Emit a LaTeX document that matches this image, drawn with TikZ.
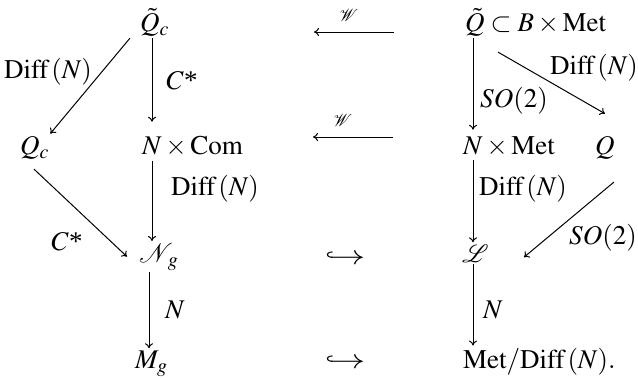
\documentclass[tikz,border=0pt]{standalone}
\usepackage{mathptmx}
\usepackage{mathrsfs}
\usepackage{fontspec}
\setmainfont{Liberation Serif}
\usetikzlibrary{arrows.meta}
\newcommand{\Cstar}{$C$\kern0.5pt*}
\begin{document}
\begin{tikzpicture}[x=1pt,y=-1pt,
  obj/.style={anchor=base west,inner sep=2pt,font=\fontsize{27}{32}\selectfont},
  lab/.style={inner sep=0pt,font=\fontsize{27}{32}\selectfont},
  wlab/.style={inner sep=0pt,font=\fontsize{17}{20}\selectfont},
  map/.style={-{To[length=5pt,width=8pt]},line width=1pt}]
\useasboundingbox (0,0) rectangle (638,380);
% objects
\node[obj] (qtc) at (138,31) {$\tilde{Q}_c$};
\node[obj] (qt)  at (463,31) {$\tilde{Q}\subset B\times\mathrm{Met}$};
\node[obj] (qc)  at (18,154) {$Q_c$};
\node[obj] (nc)  at (140,154) {$N\times\mathrm{Com}$};
\node[obj] (nm)  at (461,154) {$N\times\mathrm{Met}$};
\node[obj] (q)   at (593,154) {$Q$};
\node[obj] (ng)  at (137,262) {$\mathcal{N}_{\;g}$};
\node[obj] (ell) at (460,262) {$\mathscr{L}$};
\node[obj] (mg)  at (133,368) {$M_g$};
\node[obj] (md)  at (461,368) {$\mathrm{Met}/\mathrm{Diff}\,(N).$};
% column coordinates
\coordinate (cL) at (152,0);
\coordinate (cN) at (149,0);
\coordinate (cR) at (473,0);
% vertical maps
\draw[map,shorten >=12pt] (qtc.south -| cL) -- (nc.north -| cL);
\draw[map,shorten <=3pt] (nc.south -| cL) -- (ng.north -| cL);
\draw[map] (ng.south -| cN) -- (mg.north -| cN);
\draw[map,shorten >=4pt] (qt.south -| cR) -- (nm.north -| cR);
\draw[map,shorten <=2pt] (nm.south -| cR) -- (ell.north -| cR);
\draw[map] (ell.south -| cR) -- (md.north -| cR);
% diagonal maps
\draw[map] ([xshift=-8pt]qtc.south west) -- ([xshift=-1pt]qc.north east);
\draw[map] ([xshift=16pt,yshift=-8pt]qc.south west) -- ([xshift=-10pt,yshift=0pt]ng.west);
\draw[map] ([xshift=35pt,yshift=-14pt]qt.south west) -- ([yshift=20pt]q.north);
\draw[map] ([xshift=-3pt,yshift=-21pt]q.south east) -- ([xshift=33pt,yshift=-4pt]ell.east);
% horizontal maps
\coordinate (w1s) at (394,32);
\coordinate (w1e) at (314,32);
\coordinate (w2s) at (393,137);
\coordinate (w2e) at (313,137);
\draw[map] (w1s) -- (w1e);
\draw[map] (w2s) -- (w2e);
\node[wlab] (wl1) at (349,15) {$\mathscr{W}$};
\node[wlab] (wl2) at (343,120) {$\mathscr{W}$};
% inclusions
\node[lab] (h1) at (345,258) {\scalebox{1.35}[1]{$\hookrightarrow$}};
\node[lab] (h2) at (345,362) {\scalebox{1.35}[1]{$\hookrightarrow$}};
% labels
\node[lab] (l1) at (48,72) {$\mathrm{Diff}\,(N)$};
\node[lab] (l2) at (182,81) {\Cstar};
\node[lab] (l3) at (594,68) {$\mathrm{Diff}\,(N)$};
\node[lab] (l4) at (514,101) {$SO(2)$};
\node[lab] (l5) at (215,189) {$\mathrm{Diff}\,(N)$};
\node[lab] (l6) at (67,242) {\Cstar};
\node[lab] (l7) at (523,189) {$\mathrm{Diff}\,(N)$};
\node[lab] (l8) at (603,238) {$SO(2)$};
\node[lab] (l9) at (175,310) {$N$};
\node[lab] (l10) at (493,310) {$N$};
\end{tikzpicture}
\end{document}
